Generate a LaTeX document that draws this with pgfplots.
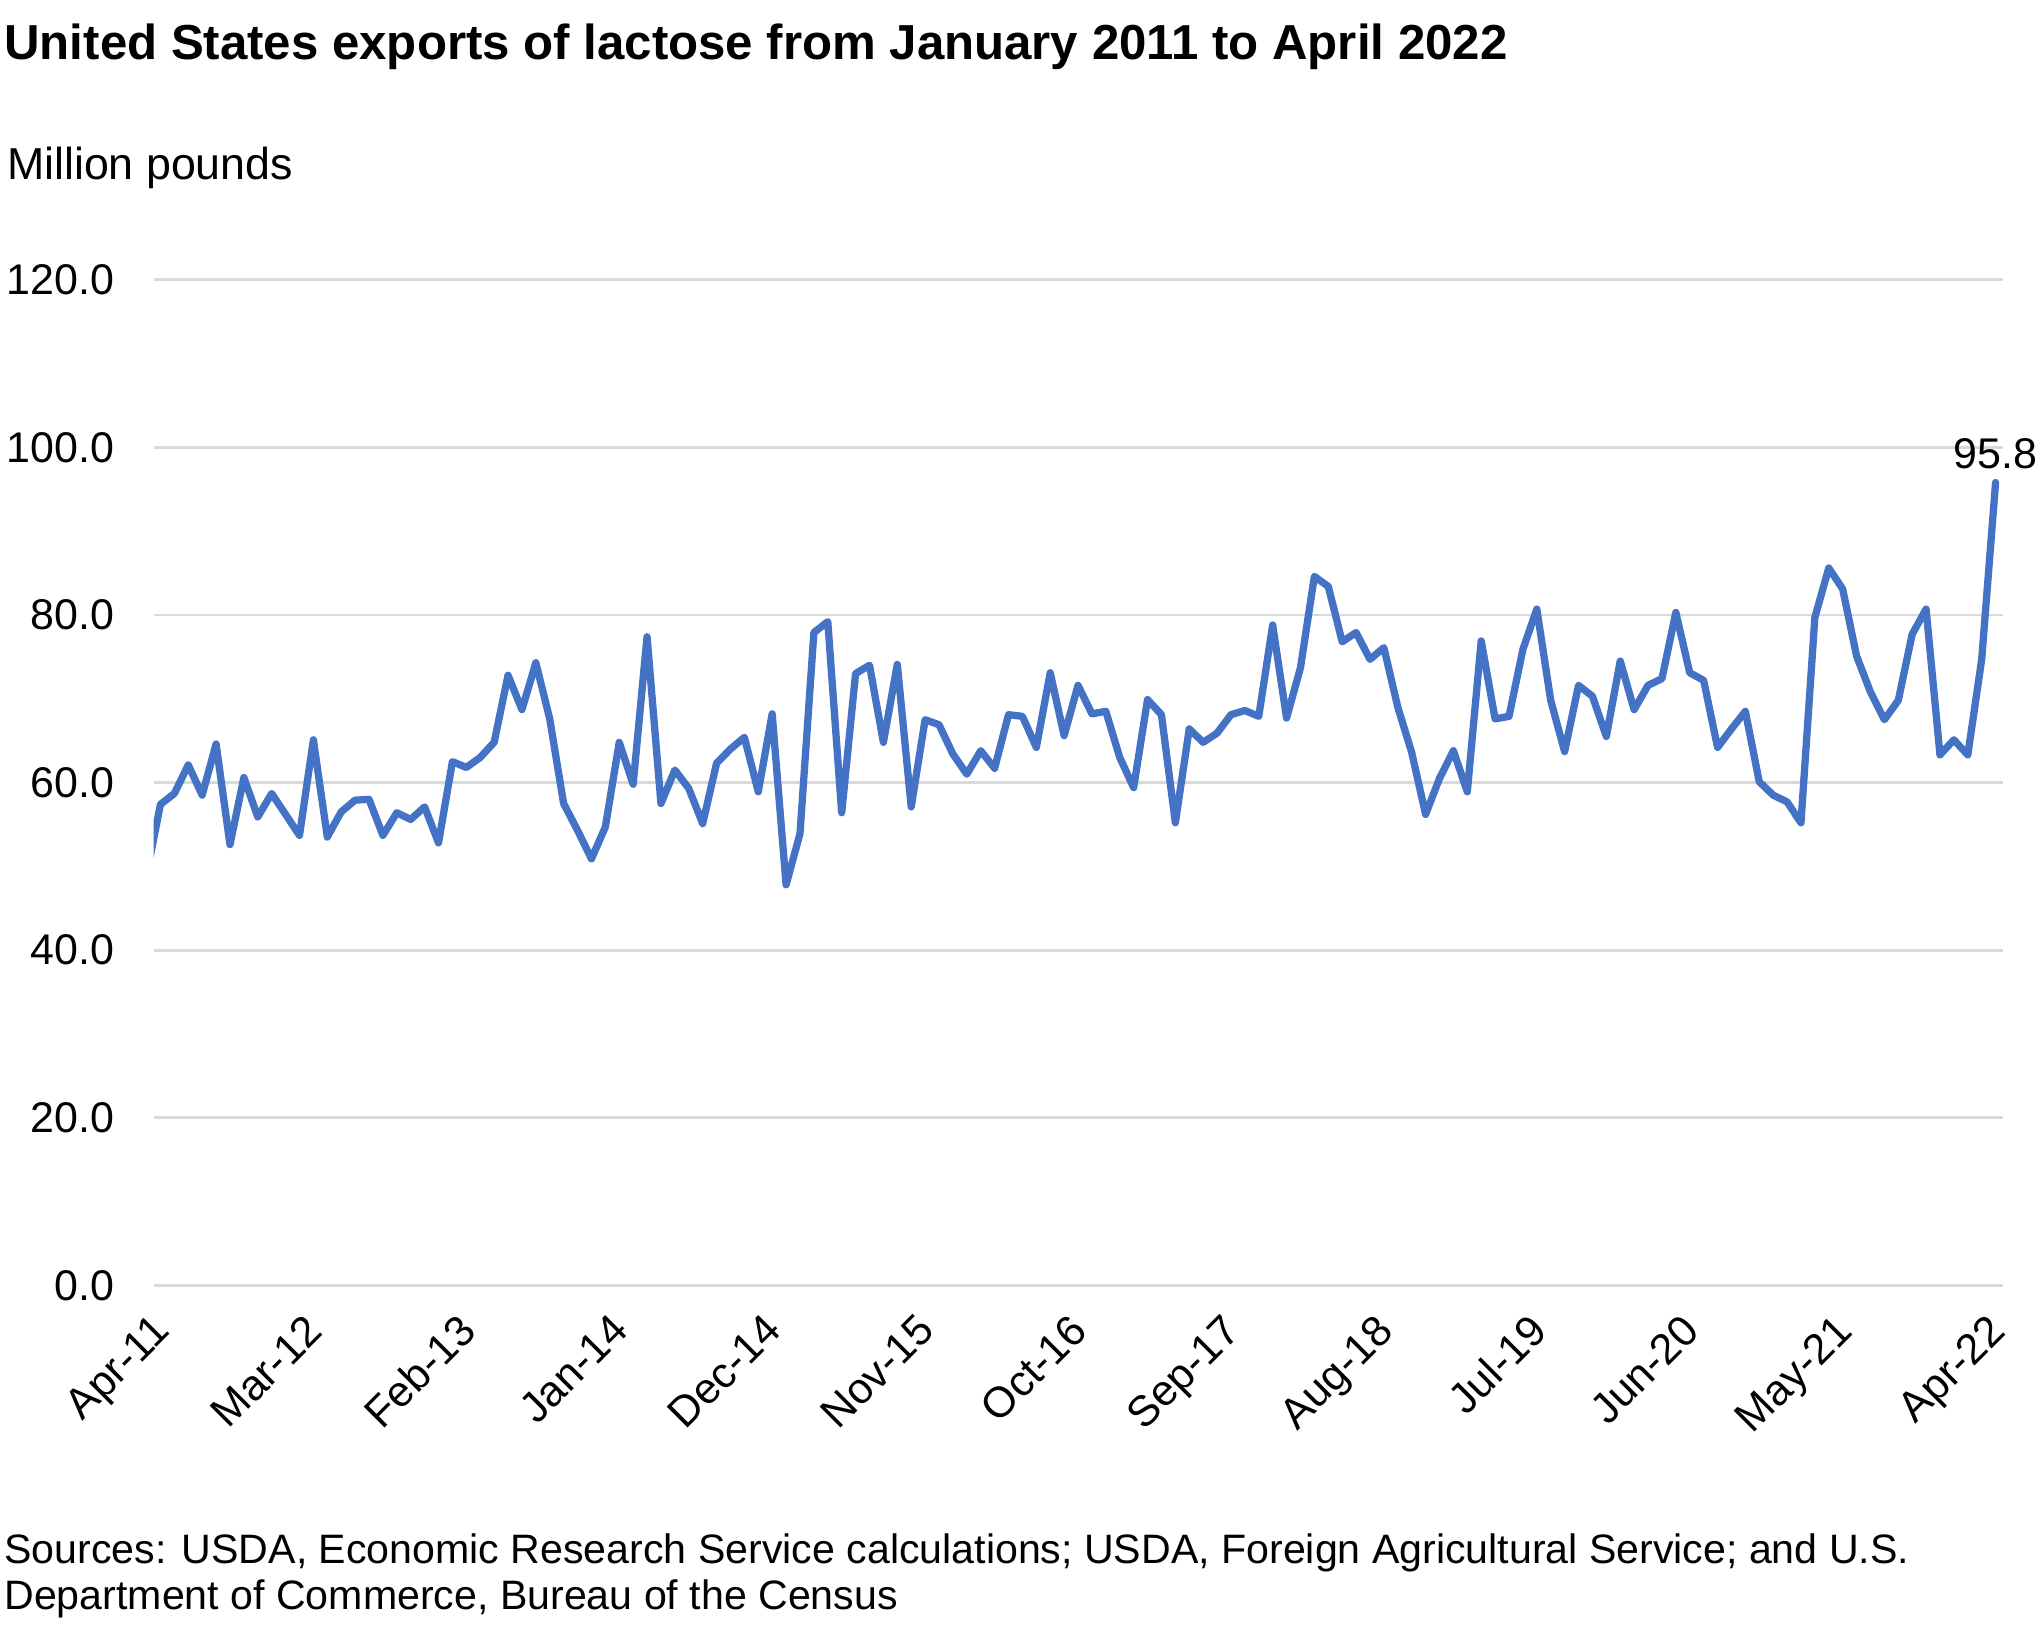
\documentclass[border=0pt]{standalone}
\usepackage{fontspec}
\setmainfont{Liberation Sans}
\usepackage{pgfplots}
\pgfplotsset{compat=1.18}
\definecolor{exblue}{HTML}{4472C4}
\definecolor{gridgray}{HTML}{D9D9D9}

\begin{document}
\begin{tikzpicture}
\useasboundingbox (-59pt,-133pt) rectangle (725pt,494pt);
\begin{axis}[
  scale only axis,
  width=710.6pt, height=386.5pt,
  xmin=0, xmax=133, ymin=0, ymax=120,
  clip mode=individual,
  axis line style={draw=none},
  major tick length=0pt,
  ytick={0,20,...,120},
  ymajorgrids,
  grid style={gridgray, line width=1.1pt},
  xtick={0,11,...,132},
  xticklabels={Apr-11,Mar-12,Feb-13,Jan-14,Dec-14,Nov-15,Oct-16,Sep-17,Aug-18,Jul-19,Jun-20,May-21,Apr-22},
  % shifts are in the rotated frame
  xticklabel style={rotate=45, anchor=north east, inner sep=0pt, xshift=-7.8pt, yshift=-6.3pt},
  yticklabel={\pgfmathprintnumber[fixed,fixed zerofill,precision=1,assume math mode=true]{\tick}},
  yticklabel style={anchor=east, inner sep=0pt, xshift=-15pt},
  ticklabel style={font=\fontsize{16.5}{19}\selectfont},
]
% monthly exports, Mar-11 (clipped) to Apr-22, placed mid-month
\addplot[exblue, line width=2.8pt, line join=round, line cap=round, mark=none] coordinates {
(-0.5,49.0) (0.5,57.4) (1.5,58.7) (2.5,62.1) (3.5,58.5) (4.5,64.6) (5.5,52.6) (6.5,60.6)
(7.5,55.9) (8.5,58.7) (9.5,56.2) (10.5,53.7) (11.5,65.1) (12.5,53.5) (13.5,56.5) (14.5,57.9)
(15.5,58.0) (16.5,53.7) (17.5,56.4) (18.5,55.6) (19.5,57.1) (20.5,52.8) (21.5,62.5) (22.5,61.8)
(23.5,63.0) (24.5,64.8) (25.5,72.8) (26.5,68.7) (27.5,74.3) (28.5,67.6) (29.5,57.5) (30.5,54.3)
(31.5,50.9) (32.5,54.7) (33.5,64.8) (34.5,59.8) (35.5,77.4) (36.5,57.5) (37.5,61.5) (38.5,59.3)
(39.5,55.1) (40.5,62.3) (41.5,64.0) (42.5,65.4) (43.5,58.9) (44.5,68.2) (45.5,47.8) (46.5,53.9)
(47.5,77.9) (48.5,79.2) (49.5,56.4) (50.5,73.0) (51.5,74.0) (52.5,64.8) (53.5,74.1) (54.5,57.1)
(55.5,67.5) (56.5,66.9) (57.5,63.4) (58.5,61.0) (59.5,63.8) (60.5,61.7) (61.5,68.1) (62.5,67.9)
(63.5,64.2) (64.5,73.1) (65.5,65.6) (66.5,71.6) (67.5,68.2) (68.5,68.5) (69.5,63.0) (70.5,59.4)
(71.5,69.9) (72.5,68.1) (73.5,55.2) (74.5,66.4) (75.5,64.8) (76.5,65.9) (77.5,68.1) (78.5,68.6)
(79.5,67.9) (80.5,78.8) (81.5,67.7) (82.5,73.7) (83.5,84.6) (84.5,83.4) (85.5,76.8) (86.5,77.9)
(87.5,74.7) (88.5,76.1) (89.5,69.0) (90.5,63.6) (91.5,56.2) (92.5,60.5) (93.5,63.8) (94.5,58.9)
(95.5,76.9) (96.5,67.6) (97.5,67.9) (98.5,75.9) (99.5,80.7) (100.5,69.8) (101.5,63.7) (102.5,71.6)
(103.5,70.3) (104.5,65.5) (105.5,74.5) (106.5,68.7) (107.5,71.6) (108.5,72.4) (109.5,80.3) (110.5,73.1)
(111.5,72.2) (112.5,64.2) (113.5,66.4) (114.5,68.5) (115.5,60.1) (116.5,58.5) (117.5,57.7) (118.5,55.2)
(119.5,79.7) (120.5,85.6) (121.5,83.1) (122.5,75.1) (123.5,70.8) (124.5,67.5) (125.5,69.8) (126.5,77.7)
(127.5,80.7) (128.5,63.3) (129.5,65.1) (130.5,63.3) (131.5,74.7) (132.5,95.8)
};
% data label on the last month
\addplot[draw=none, mark=none, nodes near coords, point meta=explicit symbolic,
  every node near coord/.append style={font=\fontsize{16.5}{19}\selectfont, anchor=south, inner sep=0pt, yshift=5pt}]
  coordinates {(132.5,95.8) [95.8]};
\end{axis}
\node[anchor=base west, inner sep=0pt, font=\bfseries\fontsize{18.9}{22}\selectfont] at (-57.5pt,471pt)
  {United States exports of lactose from January 2011 to April 2022};
\node[anchor=base west, inner sep=0pt, font=\fontsize{17.2}{20}\selectfont] at (-56.5pt,425pt) {Million pounds};
\node[anchor=base west, inner sep=0pt, font=\fontsize{15.8}{19}\selectfont] at (-57.5pt,-107pt)
  {Sources: USDA, Economic Research Service calculations; USDA, Foreign Agricultural Service; and U.S.};
\node[anchor=base west, inner sep=0pt, font=\fontsize{15.8}{19}\selectfont] at (-57.5pt,-124.5pt)
  {Department of Commerce, Bureau of the Census};
\end{tikzpicture}
\end{document}
